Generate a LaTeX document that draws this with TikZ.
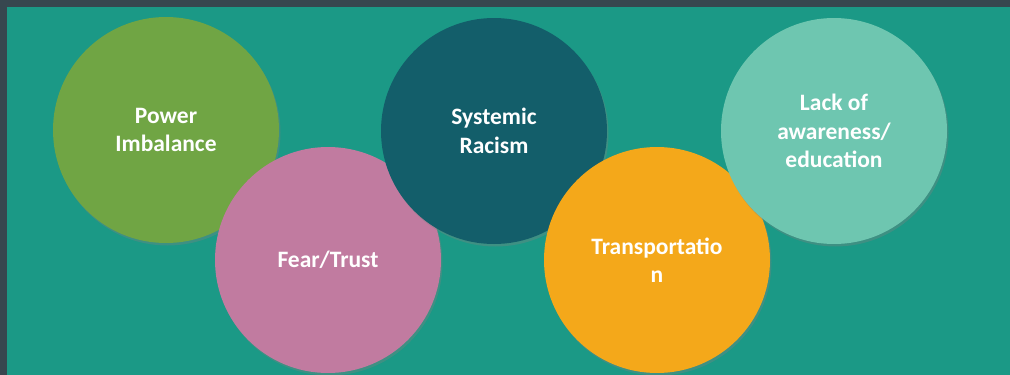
\documentclass[tikz,border=0pt]{standalone}
\usepackage{fontspec}
\setmainfont{Carlito}
\usepackage{xcolor}
\usetikzlibrary{shadows}

\definecolor{frameGray}{HTML}{37474F}
\definecolor{bgTeal}{HTML}{1B9986}
\definecolor{powerGreen}{HTML}{70A544}
\definecolor{fearPink}{HTML}{C17BA0}
\definecolor{racismTeal}{HTML}{135E6A}
\definecolor{transOrange}{HTML}{F4A81A}
\definecolor{lackTeal}{HTML}{6EC6B0}

\begin{document}
\begin{tikzpicture}[x=1pt, y=-1pt,
                bubble/.style={circle, minimum size=226pt, inner sep=0pt,
                  align=center, text=white,
                  font=\fontsize{23.5}{28.5}\selectfont\bfseries,
                  drop shadow={opacity=0.35, shadow xshift=1.5pt, shadow yshift=-2.5pt}}]
		% frame and background
		\fill [frameGray] (0,0) rectangle (1010,375);
		\fill [bgTeal] (7,7) rectangle (1010,375);
		\useasboundingbox (0,0) rectangle (1010,375);

		\node [bubble, fill=powerGreen] (b0) at (166,130) {Power\\Imbalance};
		\node [bubble, fill=fearPink] (b1) at (328,260) {Fear/Trust};
		\node [bubble, fill=racismTeal] (b2) at (494,131) {Systemic\\Racism};
		\node [bubble, fill=transOrange] (b3) at (657,260) {Transportatio\\n};
		\node [bubble, fill=lackTeal] (b4) at (834,131) {Lack of\\awareness/\\education};
		\end{tikzpicture}
\end{document}
